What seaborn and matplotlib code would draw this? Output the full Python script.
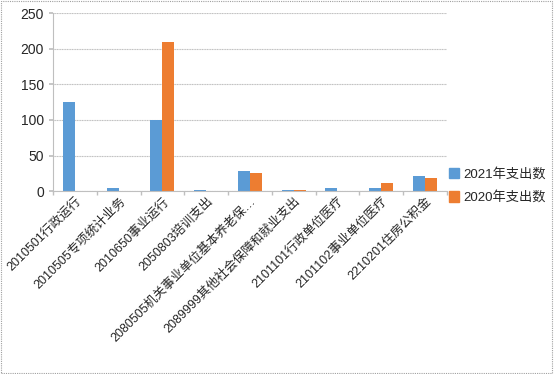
import matplotlib
matplotlib.use("Agg")
import matplotlib.pyplot as plt
import seaborn as sns
import pandas as pd
from matplotlib.patches import Rectangle

categories = ["2010501行政运行", "2010505专项统计业务", "2010650事业运行", "2050803培训支出",
              "2080505机关事业单位基本养老保…", "2089999其他社会保障和就业支出",
              "2101101行政单位医疗", "2101102事业单位医疗", "2210201住房公积金"]
v2021 = [125, 5, 100, 1, 28, 1, 5, 5, 21]
v2020 = [0, 0, 210, 0, 26, 1, 0, 11, 19]
series = ["2021年支出数", "2020年支出数"]

df = pd.DataFrame({
    "cat": categories * 2,
    "val": v2021 + v2020,
    "series": [series[0]] * len(categories) + [series[1]] * len(categories),
})

sns.set_theme(style="white")
plt.rcParams['font.family'] = ['Liberation Sans', 'Noto Sans CJK SC']

fig = plt.figure(figsize=(5.54, 3.74), dpi=100)
ax = fig.add_axes([0.0957, 0.489, 0.711, 0.476])
sns.barplot(data=df, x="cat", y="val", hue="series", order=categories,
            palette=["#5B9BD5", "#ED7D31"], width=0.55, ax=ax, legend=False,
            linewidth=0, saturation=1)
ax.set_ylim(0, 250)
ax.set_xlim(-0.5, len(categories) - 0.5)
ax.set_yticks(range(0, 251, 50))
ax.yaxis.grid(True, color="#BFBFBF", linewidth=0.8, linestyle=(0, (1, 0.5)))
ax.set_axisbelow(True)
ax.set_xlabel("")
ax.set_ylabel("")
for s in ["top", "right"]:
    ax.spines[s].set_visible(False)
for s in ["left", "bottom"]:
    ax.spines[s].set_color("#BFBFBF")
    ax.spines[s].set_linewidth(0.8)
ax.set_xticks(range(len(categories)))
ax.set_xticklabels(categories, rotation=45, ha="right", rotation_mode="anchor", fontsize=9)
ax.tick_params(axis="x", length=0, pad=3)
ax.tick_params(axis="y", labelsize=10, length=3, color="#BFBFBF", left=True)
ax.set_xticks([i + 0.5 for i in range(-1, len(categories))], minor=True)
ax.tick_params(axis="x", which="minor", length=3, color="#BFBFBF", bottom=True)

handles = [Rectangle((0, 0), 1, 1, color="#5B9BD5"), Rectangle((0, 0), 1, 1, color="#ED7D31")]
fig.legend(handles, series, loc="center left", bbox_to_anchor=(0.81, 0.503),
           frameon=False, fontsize=9.5, handlelength=0.8, handleheight=0.8,
           handletextpad=0.3, labelspacing=0.8, borderpad=0, borderaxespad=0)

fig.patches.append(Rectangle((0.002, 0.003), 0.995, 0.994, transform=fig.transFigure,
                             fill=False, edgecolor="#A0A0A0", linewidth=0.8,
                             linestyle=(0, (1, 1))))
fig.savefig("out.png", dpi=100)
